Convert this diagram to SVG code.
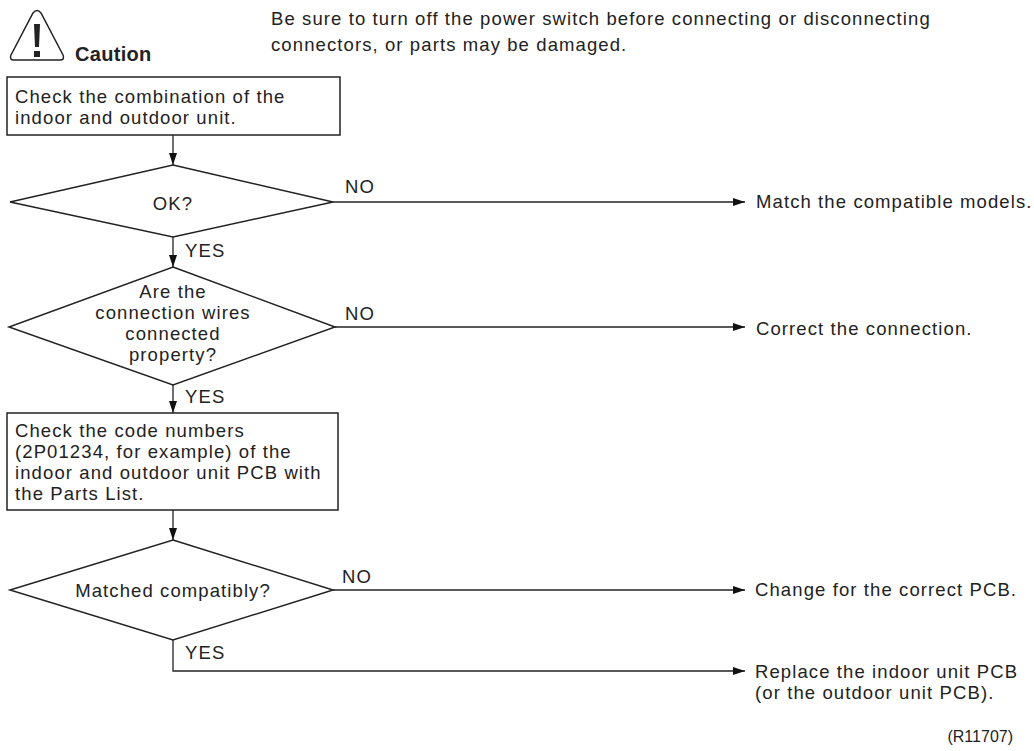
<svg xmlns="http://www.w3.org/2000/svg" width="1034" height="751" viewBox="0 0 1034 751">
<defs>
<marker id="ah" markerWidth="12" markerHeight="8" refX="12" refY="4" orient="auto" markerUnits="userSpaceOnUse"><path d="M0,0 L12,4 L0,8 z" fill="#111"/></marker>
</defs>
<style>
text{font-family:"Liberation Sans",Arial,sans-serif;font-size:18.5px;letter-spacing:1.1px;fill:#222}
.s{fill:#fff;stroke:#222;stroke-width:1.5}
.c{fill:none;stroke:#222;stroke-width:1.3}
.m{text-anchor:middle}
</style>
<rect width="1034" height="751" fill="#fff"/>
<g id="caution">
<path d="M33,13 Q37,8 41,13 L63,55 Q65,60 60,60 L14,60 Q9,60 11,55 Z" fill="#fff" stroke="#222" stroke-width="1.5"/>
<path d="M34,24 L40,24 L39,47 L35,47 Z" fill="#222"/>
<rect x="34" y="51" width="6" height="6" fill="#222"/>
<text x="75" y="61" style="font-weight:bold;font-size:20px;letter-spacing:0.3px">Caution</text>
<text x="271" y="25">Be sure to turn off the power switch before connecting or disconnecting</text>
<text x="271" y="51">connectors, or parts may be damaged.</text>
</g>
<g id="n1"><rect class="s" x="7" y="77" width="333" height="58"/>
<text x="15" y="103">Check the combination of the</text><text x="15" y="124">indoor and outdoor unit.</text></g>
<g id="d1"><polygon class="s" points="173,165 333,202 173,237 10,202"/><text class="m" x="173" y="210">OK?</text></g>
<g id="d2"><polygon class="s" points="173,267 335,327 173,385 9,327"/>
<text class="m" x="173" y="298">Are the</text><text class="m" x="173" y="319">connection wires</text><text class="m" x="173" y="340">connected</text><text class="m" x="173" y="361">property?</text></g>
<g id="n2"><rect class="s" x="7" y="413" width="331" height="97"/>
<text x="15" y="437">Check the code numbers</text><text x="15" y="458">(2P01234, for example) of the</text><text x="15" y="479">indoor and outdoor unit PCB with</text><text x="15" y="500">the Parts List.</text></g>
<g id="d3"><polygon class="s" points="173,540 333,590 173,640 10,590"/><text class="m" x="173" y="597">Matched compatibly?</text></g>
<g id="r1"><text x="756" y="208">Match the compatible models.</text></g>
<g id="r2"><text x="756" y="335">Correct the connection.</text></g>
<g id="r3"><text x="755" y="596">Change for the correct PCB.</text></g>
<g id="r4"><text x="755" y="678">Replace the indoor unit PCB</text><text x="755" y="699">(or the outdoor unit PCB).</text></g>
<g id="connectors">
<line class="c" x1="173" y1="135" x2="173" y2="165" marker-end="url(#ah)"/>
<line class="c" x1="173" y1="237" x2="173" y2="267" marker-end="url(#ah)"/>
<line class="c" x1="173" y1="385" x2="173" y2="413" marker-end="url(#ah)"/>
<line class="c" x1="173" y1="510" x2="173" y2="540" marker-end="url(#ah)"/>
<line class="c" x1="333" y1="202" x2="745" y2="202" marker-end="url(#ah)"/>
<line class="c" x1="335" y1="327" x2="745" y2="327" marker-end="url(#ah)"/>
<line class="c" x1="333" y1="590" x2="745" y2="590" marker-end="url(#ah)"/>
<polyline class="c" points="173,640 173,671 745,671" marker-end="url(#ah)"/>
<text x="345" y="193">NO</text><text x="185" y="257">YES</text>
<text x="345" y="320">NO</text><text x="185" y="403">YES</text>
<text x="342" y="583">NO</text><text x="185" y="659">YES</text>
</g>
<text x="1013" y="742" style="font-size:16px;letter-spacing:0;text-anchor:end">(R11707)</text>
</svg>
